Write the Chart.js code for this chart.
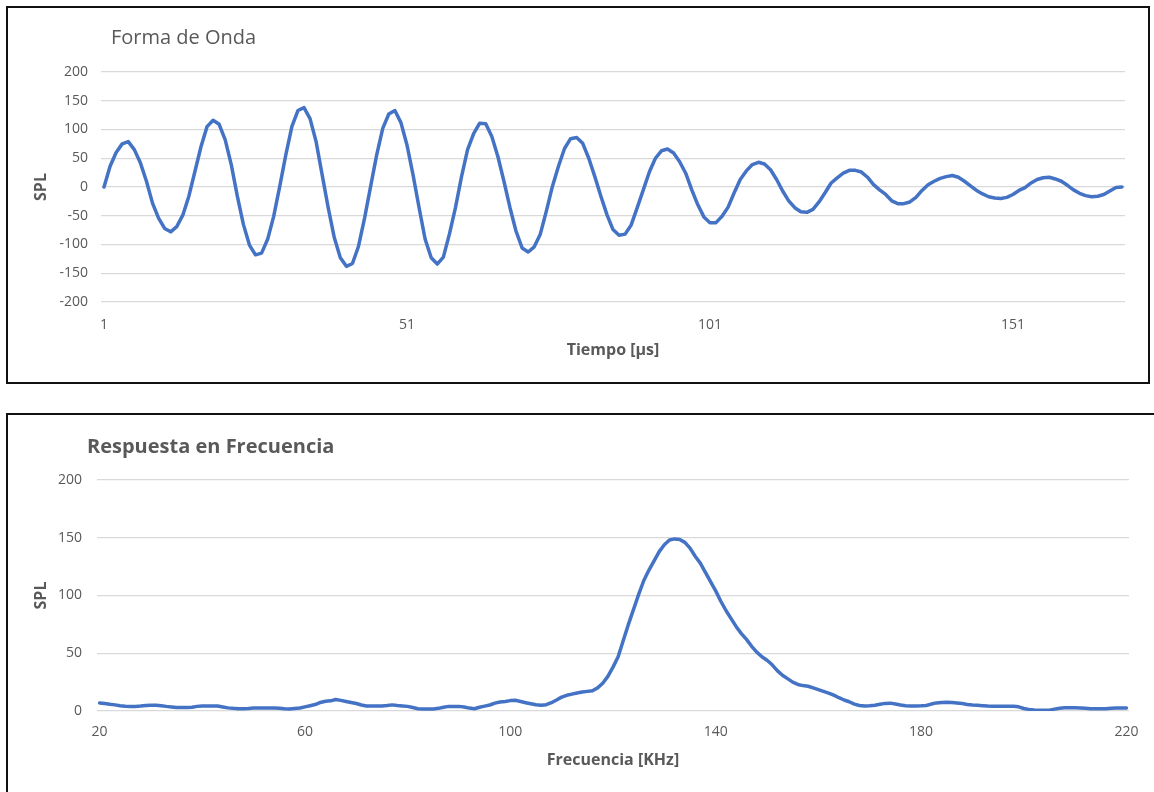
<!DOCTYPE html>
<html>
<head>
<meta charset="utf-8">
<script src="https://cdn.jsdelivr.net/npm/chart.js@4/dist/chart.umd.min.js"></script>
<style>
html, body { margin: 0; padding: 0; background: #fff; overflow: hidden; width: 1154px; height: 792px; }
.box { position: absolute; border: 2px solid #111; background: #fff; }
#box-onda { left: 6px; top: 6px; width: 1140px; height: 374px; }
#box-freq { left: 6px; top: 413px; width: 1156px; height: 390px; }
canvas { display: block; }
</style>
</head>
<body>
<div class="box" id="box-onda"><canvas id="onda" width="1140" height="374"></canvas></div>
<div class="box" id="box-freq"><canvas id="freq" width="1156" height="390"></canvas></div>
<script>
const LINE = '#4472C4';
const TEXT = '#595959';
const GRID = '#d9d9d9';
const FONT = "'Open Sans', 'Noto Sans', sans-serif";

// Forma de Onda: muestras 1..169
const tiempo = Array.from({ length: 169 }, (_, i) => String(i + 1));
const tiempoTicks = ['1', '51', '101', '151'];
const splOnda = [
    0, 36, 60, 75, 79, 65, 42, 10, -28, -54,
    -72, -78, -69, -49, -16, 27, 70, 105, 116, 109,
    82, 39, -16, -65, -101, -118, -115, -91, -51, 1,
    56, 105, 133, 138, 119, 79, 21, -36, -88, -123,
    -138, -133, -103, -54, 1, 56, 102, 127, 133, 112,
    73, 21, -36, -91, -123, -134, -122, -82, -36, 18,
    65, 93, 111, 110, 88, 53, 10, -36, -77, -106,
    -113, -104, -82, -42, 1, 36, 67, 84, 86, 76,
    50, 18, -16, -48, -74, -84, -82, -66, -36, -5,
    26, 50, 63, 66, 59, 44, 24, -5, -31, -52,
    -62, -62, -51, -35, -10, 13, 28, 39, 43, 40,
    30, 13, -7, -24, -36, -43, -44, -39, -26, -10,
    7, 16, 24, 29, 29, 26, 17, 4, -5, -13,
    -24, -29, -29, -26, -18, -6, 4, 10, 15, 18,
    20, 17, 10, 2, -6, -12, -17, -19, -20, -18,
    -13, -6, -1, 7, 13, 16, 17, 14, 10, 3,
    -5, -11, -15, -17, -16, -13, -7, -1, 0,
];

// Respuesta en Frecuencia: 20..220 KHz
const frecuencia = Array.from({ length: 201 }, (_, i) => String(i + 20));
const frecuenciaTicks = ['20', '60', '100', '140', '180', '220'];
const splFreq = [
    7, 6.5, 5.8, 5.3, 4.6, 4.2, 4, 4, 4.3, 4.7,
    5, 5, 4.6, 4, 3.5, 3, 3, 3, 3.2, 4,
    4.4, 4.4, 4.4, 4.3, 3.5, 2.7, 2.3, 2, 2, 2.2,
    2.5, 2.6, 2.6, 2.6, 2.6, 2.3, 1.9, 1.8, 2.2, 2.6,
    3.6, 4.6, 5.6, 7.4, 8.5, 8.8, 10, 9.2, 8.2, 7.3,
    6.5, 5.2, 4.4, 4.4, 4.4, 4.4, 4.8, 5.3, 4.8, 4.4,
    4, 3, 2, 1.8, 1.8, 1.8, 2.3, 3.3, 4, 4,
    4, 3.5, 2.5, 2, 3.2, 4.2, 5.2, 6.8, 7.8, 8.3,
    9, 9.3, 8.2, 7.2, 6.3, 5.4, 4.9, 5.5, 7.2, 9.5,
    12, 13.6, 14.6, 15.6, 16.4, 17, 17.6, 20, 24, 30,
    38, 47, 61, 75, 88, 101, 113, 122, 130, 138,
    144, 148, 149, 148.5, 146, 141, 134, 128, 120, 112,
    104, 95, 87, 80, 73, 67, 62, 56, 51, 47,
    44, 40, 35, 31, 28, 25, 23, 22, 21.4, 20,
    18.5, 17, 15.5, 13.7, 11.5, 9.5, 8, 6, 4.8, 4.4,
    4.5, 5, 5.8, 6.6, 6.8, 6, 5.2, 4.6, 4.4, 4.4,
    4.5, 4.8, 6, 7, 7.3, 7.5, 7.4, 7, 6.4, 5.7,
    5.2, 4.9, 4.6, 4.3, 4.1, 4.1, 4.1, 4.1, 4.1, 3.6,
    2.2, 1.4, 0.8, 0.6, 0.6, 0.6, 1.6, 2.4, 2.8, 2.9,
    2.8, 2.6, 2.3, 2, 2, 2, 2, 2.3, 2.6, 2.6,
    2.6,
];

// titulo del grafico, alineado como en Excel (no centrado)
const plotTitle = {
    id: 'plotTitle',
    afterDraw(chart, args, opts) {
        const { ctx } = chart;
        ctx.save();
        ctx.font = opts.font;
        ctx.fillStyle = TEXT;
        ctx.textBaseline = 'alphabetic';
        ctx.fillText(opts.text, opts.x, opts.y);
        ctx.restore();
    },
};

function lineChart(el, cfg) {
    const tickFont = { family: FONT, size: 14 };
    const titleFont = { family: FONT, size: 16, weight: 'bold' };
    return new Chart(el, {
        type: 'line',
        data: {
            labels: cfg.labels,
            datasets: [{ data: cfg.values, borderColor: LINE, borderWidth: 3.5, pointRadius: 0, tension: 0, fill: false, borderJoinStyle: 'round', borderCapStyle: 'round' }],
        },
        plugins: [plotTitle],
        options: {
            responsive: false, animation: false, events: [],
            layout: { padding: cfg.padding },
            plugins: { legend: { display: false }, tooltip: { enabled: false }, plotTitle: cfg.title },
            scales: {
                x: {
                    offset: true,
                    grid: { display: false }, border: { display: false },
                    ticks: {
                        autoSkip: false, maxRotation: 0, minRotation: 0, padding: cfg.xTickPad, color: TEXT, font: tickFont,
                        callback: (v, i) => (cfg.shown.includes(cfg.labels[i]) ? cfg.labels[i] : ''),
                    },
                    title: { display: true, text: cfg.xTitle, color: TEXT, font: titleFont, padding: { top: 0, bottom: cfg.xTitlePad } },
                    afterFit: (s) => { s.height = cfg.xHeight; },
                },
                y: {
                    min: cfg.yMin, max: cfg.yMax,
                    ticks: { stepSize: 50, padding: cfg.yTickPad, color: TEXT, font: tickFont },
                    grid: { color: GRID, lineWidth: 1.3, drawTicks: false },
                    border: { display: false },
                    title: { display: true, text: 'SPL', color: TEXT, font: titleFont, padding: { top: 24, bottom: 0 } },
                    afterFit: (s) => { s.width = cfg.yWidth; },
                },
            },
        },
    });
}

lineChart(document.getElementById('onda'), {
    labels: tiempo, values: splOnda, shown: tiempoTicks,
    yMin: -200, yMax: 200,
    xTitle: 'Tiempo [μs]',
    title: { text: 'Forma de Onda', x: 103, y: 36, font: `20px ${FONT}` },
    padding: { left: 0, top: 64, right: 23, bottom: 0 },
    yWidth: 93, yTickPad: 13, xHeight: 80, xTickPad: 7, xTitlePad: 22,
});

lineChart(document.getElementById('freq'), {
    labels: frecuencia, values: splFreq, shown: frecuenciaTicks,
    yMin: 0, yMax: 200,
    xTitle: 'Frecuencia [KHz]',
    title: { text: 'Respuesta en Frecuencia', x: 79, y: 38, font: `bold 20px ${FONT}` },
    padding: { left: 0, top: 65, right: 35, bottom: 0 },
    yWidth: 89, yTickPad: 15, xHeight: 94, xTickPad: 5, xTitlePad: 35,
});
</script>
</body>
</html>
